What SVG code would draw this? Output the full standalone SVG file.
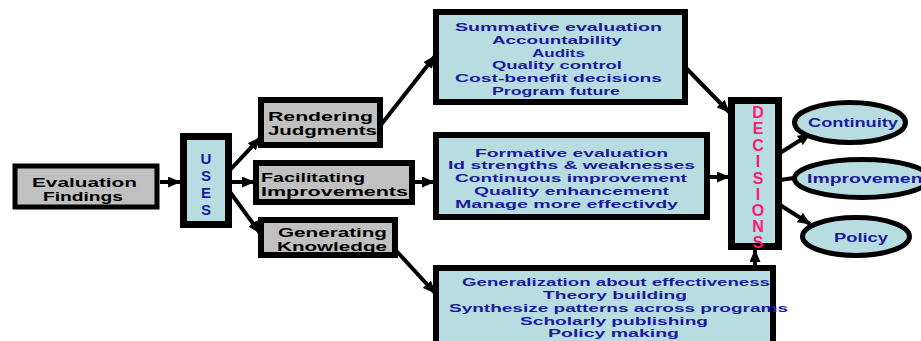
<svg xmlns="http://www.w3.org/2000/svg" width="921" height="341" viewBox="0 0 921 341">
<style>
.gray{fill:#c0c0c0;stroke:#000;stroke-width:6}
.blue{fill:#b8dde1;stroke:#000;stroke-width:6}
.thick{stroke-width:7}
.ell{fill:#b8dde1;stroke:#000;stroke-width:5}
.bt{font-family:"Liberation Sans",Arial,sans-serif;font-weight:bold;font-size:12px;fill:#000;text-anchor:middle}
.nt{font-family:"Liberation Sans",Arial,sans-serif;font-weight:bold;font-size:11px;fill:#1a1a9c;text-anchor:middle}
.lt{font-family:"Liberation Sans",Arial,sans-serif;font-weight:bold;font-size:15px;fill:#1a1a9c;text-anchor:middle}
.pt{font-family:"Liberation Sans",Arial,sans-serif;font-weight:bold;font-size:16px;fill:#ff1a70;text-anchor:middle}
.et{font-family:"Liberation Sans",Arial,sans-serif;font-weight:bold;font-size:12px;fill:#1a1a9c;text-anchor:middle}
.con line{stroke:#000;stroke-width:4;marker-end:url(#ah)}
</style>
<defs>
<marker id="ah" markerUnits="userSpaceOnUse" markerWidth="13" markerHeight="11" refX="12" refY="5.5" orient="auto">
<path d="M0,0 L13,5.5 L0,11 z" fill="#000"/>
</marker>
</defs>
<rect width="921" height="341" fill="#fff"/>
<g id="connectors" class="con">
<line x1="160" y1="182" x2="180" y2="182"/>
<line x1="230" y1="170" x2="260" y2="138"/>
<line x1="230" y1="182" x2="254" y2="182"/>
<line x1="230" y1="192" x2="260" y2="233"/>
<line x1="380" y1="126" x2="435" y2="56"/>
<line x1="413" y1="182" x2="434" y2="182"/>
<line x1="390" y1="244" x2="435" y2="293"/>
<line x1="686" y1="68" x2="729" y2="112"/>
<line x1="708" y1="177" x2="729" y2="177"/>
<line x1="755" y1="267" x2="755" y2="250"/>
<line x1="780" y1="153" x2="810" y2="134"/>
<line x1="780" y1="180" x2="794" y2="178" style="marker-end:none"/>
<line x1="780" y1="205" x2="810" y2="224"/>
</g>
<g id="evaluation-findings">
<rect class="gray" x="15" y="166" width="142" height="41" style="stroke-width:5"/>
<text class="bt" x="84.5" y="187" textLength="105" lengthAdjust="spacingAndGlyphs">Evaluation</text>
<text class="bt" x="83" y="201" textLength="80" lengthAdjust="spacingAndGlyphs">Findings</text>
</g>
<g id="uses">
<rect class="blue thick" x="183.5" y="136.5" width="45" height="88"/>
<text class="lt" x="206" y="164">U</text>
<text class="lt" x="206" y="181">S</text>
<text class="lt" x="206" y="198">E</text>
<text class="lt" x="206" y="215">S</text>
</g>
<g id="rendering-judgments">
<rect class="gray" x="261" y="100" width="119" height="45"/>
<text class="bt" x="320.5" y="121" textLength="105" lengthAdjust="spacingAndGlyphs">Rendering</text>
<text class="bt" x="322.5" y="135" textLength="109" lengthAdjust="spacingAndGlyphs">Judgments</text>
</g>
<g id="facilitating-improvements">
<rect class="gray" x="256" y="163" width="156" height="39"/>
<text class="bt" x="313" y="182" textLength="104" lengthAdjust="spacingAndGlyphs">Facilitating</text>
<text class="bt" x="334.5" y="196" textLength="147" lengthAdjust="spacingAndGlyphs">Improvements</text>
</g>
<g id="generating-knowledge">
<rect class="gray" x="261" y="220" width="134" height="35"/>
<text class="bt" x="332.5" y="237" textLength="109" lengthAdjust="spacingAndGlyphs">Generating</text>
<text class="bt" x="332" y="251" textLength="110" lengthAdjust="spacingAndGlyphs">Knowledge</text>
</g>
<g id="summative">
<rect class="blue" x="436" y="12" width="249" height="90"/>
<text class="nt" x="558.5" y="31" textLength="207" lengthAdjust="spacingAndGlyphs">Summative evaluation</text>
<text class="nt" x="557" y="44" textLength="130" lengthAdjust="spacingAndGlyphs">Accountability</text>
<text class="nt" x="558.5" y="57" textLength="53" lengthAdjust="spacingAndGlyphs">Audits</text>
<text class="nt" x="557" y="69" textLength="130" lengthAdjust="spacingAndGlyphs">Quality control</text>
<text class="nt" x="558.5" y="82" textLength="207" lengthAdjust="spacingAndGlyphs">Cost-benefit decisions</text>
<text class="nt" x="556" y="95" textLength="128" lengthAdjust="spacingAndGlyphs">Program future</text>
</g>
<g id="formative">
<rect class="blue" x="436" y="135" width="271" height="82"/>
<text class="nt" x="571.5" y="157" textLength="193" lengthAdjust="spacingAndGlyphs">Formative evaluation</text>
<text class="nt" x="571.5" y="169" textLength="247" lengthAdjust="spacingAndGlyphs">Id strengths &amp; weaknesses</text>
<text class="nt" x="571" y="182" textLength="232" lengthAdjust="spacingAndGlyphs">Continuous improvement</text>
<text class="nt" x="571.5" y="195" textLength="195" lengthAdjust="spacingAndGlyphs">Quality enhancement</text>
<text class="nt" x="566.5" y="208" textLength="223" lengthAdjust="spacingAndGlyphs">Manage more effectivdy</text>
</g>
<g id="generalization">
<rect class="blue" x="436" y="268" width="337" height="82"/>
<text class="nt" x="616" y="286" textLength="308" lengthAdjust="spacingAndGlyphs">Generalization about effectiveness</text>
<text class="nt" x="615" y="299" textLength="144" lengthAdjust="spacingAndGlyphs">Theory building</text>
<text class="nt" x="618.5" y="312" textLength="339" lengthAdjust="spacingAndGlyphs">Synthesize patterns across programs</text>
<text class="nt" x="614" y="325" textLength="188" lengthAdjust="spacingAndGlyphs">Scholarly publishing</text>
<text class="nt" x="613.5" y="337" textLength="131" lengthAdjust="spacingAndGlyphs">Policy making</text>
</g>
<g id="decisions">
<rect class="blue thick" x="731.5" y="100.5" width="47" height="146"/>
<text class="pt" x="758" y="118">D</text>
<text class="pt" x="758" y="134">E</text>
<text class="pt" x="758" y="151">C</text>
<text class="pt" x="758" y="167">I</text>
<text class="pt" x="758" y="184">S</text>
<text class="pt" x="758" y="200">I</text>
<text class="pt" x="758" y="216">O</text>
<text class="pt" x="758" y="232">N</text>
<text class="pt" x="758" y="248">S</text>
</g>
<g id="continuity">
<ellipse class="ell" cx="850" cy="122.5" rx="55.5" ry="20"/>
<text class="et" x="853" y="127" textLength="90" lengthAdjust="spacingAndGlyphs">Continuity</text>
</g>
<g id="improvement">
<ellipse class="ell" cx="862" cy="178.5" rx="67.5" ry="19"/>
<text class="et" x="868" y="183" textLength="122" lengthAdjust="spacingAndGlyphs">Improvement</text>
</g>
<g id="policy">
<ellipse class="ell" cx="856" cy="236.5" rx="53.5" ry="19"/>
<text class="et" x="861" y="242" textLength="54" lengthAdjust="spacingAndGlyphs">Policy</text>
</g>
</svg>
